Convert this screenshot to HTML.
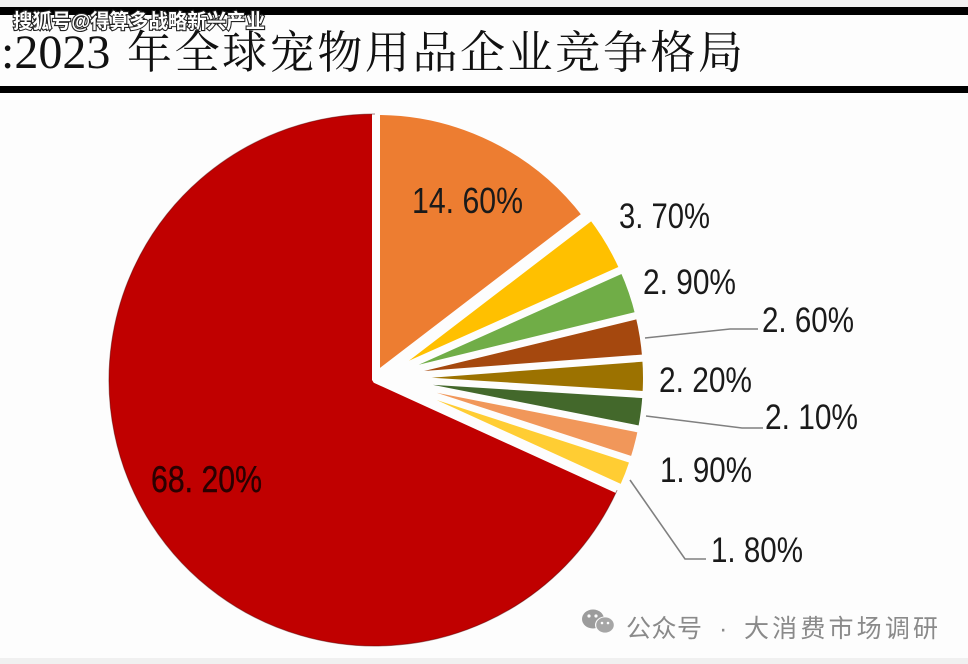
<!DOCTYPE html>
<html>
<head>
<meta charset="utf-8">
<style>
  html,body{margin:0;padding:0;background:#fdfdfd;}
  svg{display:block;}
</style>
</head>
<body>
<svg width="968" height="664" viewBox="0 0 968 664" xmlns="http://www.w3.org/2000/svg">
  <rect x="0" y="0" width="968" height="664" fill="#fdfdfd"/>
  <rect x="0" y="0" width="968" height="7" fill="#f1f1f1"/>
  <rect x="0" y="658" width="968" height="6" fill="#f0f0f0"/>

  <!-- header bands -->
  <rect x="0" y="7" width="968" height="8" fill="#000"/>
  <rect x="0" y="86" width="968" height="7" fill="#000"/>

  <!-- title -->
  <text x="1" y="68" font-family="'Liberation Serif','Noto Serif CJK SC',serif" font-size="48" fill="#111">:2023</text>
  <text x="127" y="68" font-family="'Noto Serif CJK SC','Liberation Serif',serif" font-size="45" fill="#111" textLength="616" lengthAdjust="spacing">年全球宠物用品企业竞争格局</text>

  <!-- watermark -->
  <text x="13" y="28" font-family="'Liberation Sans','Noto Sans CJK SC',sans-serif" font-size="20" font-weight="bold" fill="#fff" stroke="#222" stroke-width="2.2" paint-order="stroke" textLength="252" lengthAdjust="spacingAndGlyphs">搜狐号@得算多战略新兴产业</text>

  <!-- pie slices -->
  <g stroke="#fdfdfd" stroke-width="6" stroke-linejoin="bevel">
    <path d="M375,380 L619.8,491.5 A269,269 0 1 1 375,111 Z" fill="#C00000"/>
    <path d="M377,374 L377,112 A262,262 0 0 1 585.0,214.7 Z" fill="#ED7D31"/>
    <path d="M386.87,373.91 L591.72,217.07 A258,258 0 0 1 622.35,268.49 Z" fill="#FFC000"/>
    <path d="M387.57,375.41 L623.05,269.99 A258,258 0 0 1 638.24,314.39 Z" fill="#70AD47"/>
    <path d="M387.90,376.75 L638.57,315.73 A258,258 0 0 1 645.17,357.32 Z" fill="#A5480E"/>
    <path d="M388.0,377.95 L645.27,358.52 A258,258 0 0 1 645.49,394.15 Z" fill="#9C7200"/>
    <path d="M387.93,379.03 L645.42,395.23 A258,258 0 0 1 641.05,428.98 Z" fill="#43682B"/>
    <path d="M387.74,380.01 L640.86,429.96 A258,258 0 0 1 633.12,459.73 Z" fill="#F1975A"/>
    <path d="M387.46,380.90 L632.84,460.62 A258,258 0 0 1 622.27,487.82 Z" fill="#FFCD33"/>
  </g>
  <path d="M617.1,490.2 A266,266 0 1 1 375,114" fill="none" stroke="#5a0000" stroke-width="1" opacity="0.5"/>

  <!-- leader lines -->
  <g fill="none" stroke="#808080" stroke-width="1.6">
    <polyline points="645,338 730,329 758,329"/>
    <polyline points="646,416 742,428 763,428"/>
    <polyline points="630,480 685,559 706,559"/>
  </g>

  <!-- labels -->
  <g font-family="'Liberation Sans','Noto Sans CJK SC',sans-serif" fill="#1a1a1a">
    <text x="412" y="213" font-size="36" textLength="111" lengthAdjust="spacingAndGlyphs">14. 60%</text>
    <text x="619" y="228" font-size="35" textLength="91" lengthAdjust="spacingAndGlyphs">3. 70%</text>
    <text x="643" y="294" font-size="35" textLength="93" lengthAdjust="spacingAndGlyphs">2. 90%</text>
    <text x="762" y="332" font-size="35" textLength="92" lengthAdjust="spacingAndGlyphs">2. 60%</text>
    <text x="659" y="392" font-size="35" textLength="93" lengthAdjust="spacingAndGlyphs">2. 20%</text>
    <text x="765" y="429" font-size="35" textLength="93" lengthAdjust="spacingAndGlyphs">2. 10%</text>
    <text x="660" y="482" font-size="35" textLength="92" lengthAdjust="spacingAndGlyphs">1. 90%</text>
    <text x="711" y="562" font-size="35" textLength="92" lengthAdjust="spacingAndGlyphs">1. 80%</text>
    <text x="151" y="492" font-size="37" fill="#2a0000" stroke="#2a0000" stroke-width="0.4" textLength="111" lengthAdjust="spacingAndGlyphs">68. 20%</text>
  </g>

  <!-- footer wechat icon -->
  <g>
    <ellipse cx="593" cy="619" rx="11" ry="9.5" fill="#9c9c9c"/>
    <ellipse cx="605" cy="625" rx="10" ry="8.5" fill="#fdfdfd"/>
    <ellipse cx="605" cy="625" rx="8.8" ry="7.6" fill="#a6a6a6"/>
    <circle cx="589" cy="616" r="1.6" fill="#fdfdfd"/>
    <circle cx="596" cy="616" r="1.6" fill="#fdfdfd"/>
    <circle cx="602" cy="623" r="1.3" fill="#fdfdfd"/>
    <circle cx="608" cy="623" r="1.3" fill="#fdfdfd"/>
  </g>
  <g font-family="'Liberation Sans','Noto Sans CJK SC',sans-serif" font-size="25" fill="#8a8a8a">
    <text x="626" y="637" textLength="76" lengthAdjust="spacing">公众号</text>
    <text x="719" y="637">·</text>
    <text x="744" y="637" textLength="194" lengthAdjust="spacing">大消费市场调研</text>
  </g>
</svg>
</body>
</html>
